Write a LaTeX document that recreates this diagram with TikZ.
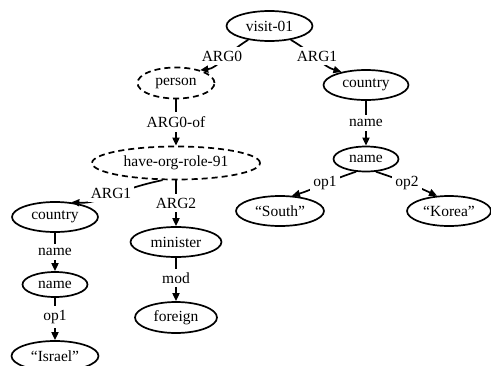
\documentclass[tikz,border=0pt]{standalone}
\usepackage{fontspec}
\setmainfont{Liberation Serif}
\usetikzlibrary{shapes.geometric,arrows.meta}
\tikzset{
  amr/.style={ellipse, draw, line width=1.7pt, inner sep=0pt, font=\fontsize{15.5}{17}\selectfont},
  dashedamr/.style={amr, dash pattern=on 6pt off 4pt},
  lbl/.style={fill=white, inner xsep=3pt, inner ysep=4pt, font=\fontsize{15.5}{17}\selectfont},
  edge/.style={line width=1.7pt, -{Triangle[length=8pt,width=7pt]}},
}
\begin{document}
\begin{tikzpicture}[x=1pt,y=-1pt]
\useasboundingbox (0,0) rectangle (491,365);
% nodes
\node[amr, minimum width=86pt, minimum height=30pt] (v) at (269.5,26) {visit-01};
\node[dashedamr, minimum width=77pt, minimum height=31pt] (p) at (176,83) {person};
\node[amr, minimum width=85pt, minimum height=30pt] (c1) at (366,85) {country};
\node[dashedamr, minimum width=168pt, minimum height=33pt] (h) at (176,163) {have-org-role-91};
\node[amr, minimum width=65pt, minimum height=25pt] (n1) at (366,159) {name};
\node[amr, minimum width=88pt, minimum height=30pt] (s) at (280,211) {“South”};
\node[amr, minimum width=84pt, minimum height=30pt] (k) at (449,211) {“Korea”};
\node[amr, minimum width=86pt, minimum height=30pt] (c2) at (55,217) {country};
\node[amr, minimum width=91pt, minimum height=30pt] (m) at (176,242) {minister};
\node[amr, minimum width=65pt, minimum height=25pt] (n2) at (55,284.5) {name};
\node[amr, minimum width=82pt, minimum height=31pt] (f) at (176,317.5) {foreign};
\node[amr, minimum width=87pt, minimum height=30pt] (i) at (55,356) {“Israel”};
% edge label positions
\coordinate (la0) at (222,56);
\coordinate (la1) at (317,56);
\coordinate (lao) at (176,122);
\coordinate (lb1) at (111,193);
\coordinate (lb2) at (176,203);
\coordinate (lnm) at (366,123);
\coordinate (lo1) at (325,183);
\coordinate (lo2) at (407,183);
\coordinate (lnl) at (55,252);
\coordinate (lol) at (55,317);
\coordinate (lmd) at (176,278);
% edges
\draw[edge] (v.213) .. controls (225,54) and (218,68) .. (p.28);
\draw[edge] (v.327) .. controls (315,54) and (322,66) .. (c1.152);
\draw[edge] (p.south) -- (h.north);
\draw[edge] (h.232) .. controls (115,190) and (100,204) .. (c2.42);
\draw[edge] (h.south) -- (m.north);
\draw[edge] (c1.south) -- (n1.north);
\draw[edge] (n1.232) .. controls (325,182) and (312,190) .. (s.52);
\draw[edge] (n1.308) .. controls (407,182) and (420,188) .. (k.128);
\draw[edge] (c2.south) -- (n2.north);
\draw[edge] (n2.south) -- (i.north);
\draw[edge] (m.south) -- (f.north);
% labels
\node[lbl] (t1) at (la0) {ARG0};
\node[lbl] (t2) at (la1) {ARG1};
\node[lbl] (t3) at (lao) {ARG0-of};
\node[lbl] (t4) at (lb1) {ARG1};
\node[lbl] (t5) at (lb2) {ARG2};
\node[lbl] (t6) at (lnm) {name};
\node[lbl] (t7) at (lo1) {op1};
\node[lbl] (t8) at (lo2) {op2};
\node[lbl] (t9) at (lnl) {name};
\node[lbl] (t10) at (lol) {op1};
\node[lbl] (t11) at (lmd) {mod};
\end{tikzpicture}
\end{document}
